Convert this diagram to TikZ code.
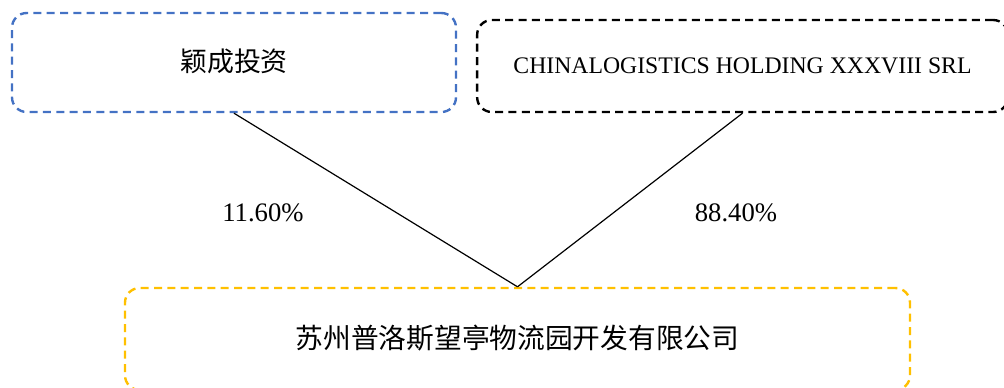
\documentclass[tikz,border=0pt]{standalone}
\usepackage{fontspec}
\setmainfont{Liberation Serif}
\newfontfamily\cjk{Noto Sans CJK SC}
\usepackage{xcolor}
\usetikzlibrary{arrows}
\definecolor{boxblue}{HTML}{4472C4}
\definecolor{boxgold}{HTML}{FFC000}

\begin{document}
\begin{tikzpicture}[x=0.75pt,y=-0.75pt]
\tikzset{align=center,auto}
\tikzset{firm/.style = {shape=rectangle,rounded corners=11pt,line width=1.8pt,
	dash pattern=on 6pt off 4pt,inner sep=0pt}}
\tikzset{edge/.style = {-,line width=0.9pt}}
\useasboundingbox (0,0) rectangle (1004,387);
% vertices
\node[firm,draw=boxblue,minimum width=333pt,minimum height=74.25pt] (yc) at (234,62.5)
	{\raisebox{4pt}{\cjk\fontsize{20.2pt}{24pt}\selectfont 颖成投资}};
\node[firm,draw=black,minimum width=398pt,minimum height=69pt] (cl) at (742.5,66)
	{\fontsize{17.8pt}{21pt}\selectfont CHINALOGISTICS HOLDING XXXVIII SRL};
\node[firm,draw=boxgold,minimum width=588.75pt,minimum height=76.5pt] (sz) at (517.5,339)
	{\raisebox{3pt}{\cjk\fontsize{20.8pt}{24pt}\selectfont 苏州普洛斯望亭物流园开发有限公司}};

% labels
\node (p1) at (263,213) {\fontsize{20pt}{24pt}\selectfont 11.60\%};
\node (p2) at (736,213) {\fontsize{20pt}{24pt}\selectfont 88.40\%};

%edges
\draw[edge] (yc.south) -- (sz.north);
\draw[edge] (cl.south) -- (sz.north);
\end{tikzpicture}
\end{document}
